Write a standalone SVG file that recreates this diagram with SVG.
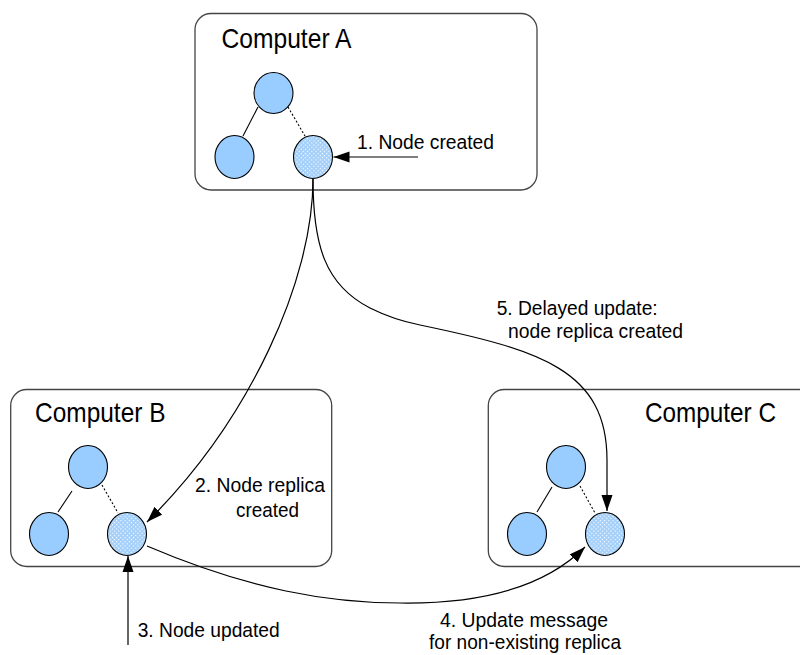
<svg xmlns="http://www.w3.org/2000/svg" width="800" height="655" viewBox="0 0 800 655">
<defs>
<style>
.box{fill:#fff;stroke:#444;stroke-width:1.3}
.n{fill:#99ccff;stroke:#000;stroke-width:1.1}
.h{fill:url(#hatch);stroke:#000;stroke-width:1.1}
.e{stroke:#000;stroke-width:1.1;fill:none}
.d{stroke:#000;stroke-width:1.1;fill:none;stroke-dasharray:2 2}
.c{stroke:#000;stroke-width:1.2;fill:none;marker-end:url(#arr)}
.t{font-family:"Liberation Sans Narrow","Liberation Sans",Arial,sans-serif;fill:#000}
.big{font-size:28px}
.sm{font-size:20.5px}
</style>
<pattern id="hatch" width="3" height="3" patternUnits="userSpaceOnUse" patternTransform="rotate(45)">
<rect width="3" height="3" fill="#a3cffa"/>
<rect x="0" y="0" width="1.2" height="1.2" fill="#fff"/>
</pattern>
<marker id="arr" markerUnits="userSpaceOnUse" markerWidth="17" markerHeight="12" refX="16" refY="6" orient="auto">
<path d="M0,0.5 L16,6 L0,11.5 z" fill="#000"/>
</marker>
</defs>
<rect width="800" height="655" fill="#fff"/>

<g id="computerA">
<rect class="box" x="195" y="13.5" width="342" height="176.5" rx="16"/>
<text class="t big" x="221.5" y="48" textLength="130" lengthAdjust="spacingAndGlyphs">Computer A</text>
<line class="e" x1="258" y1="107" x2="243" y2="136"/>
<line class="d" x1="288" y1="107" x2="305" y2="136"/>
<ellipse class="n" cx="273.5" cy="93" rx="19.5" ry="20.5"/>
<ellipse class="n" cx="234.5" cy="157" rx="19.5" ry="21.5"/>
<ellipse class="h" cx="313" cy="157" rx="19.5" ry="21.5"/>
</g>

<g id="computerB">
<rect class="box" x="10.7" y="389.5" width="321" height="177" rx="16"/>
<text class="t big" x="35" y="422" textLength="130.5" lengthAdjust="spacingAndGlyphs">Computer B</text>
<line class="e" x1="72" y1="491" x2="58" y2="512"/>
<line class="d" x1="102" y1="485" x2="118" y2="513"/>
<ellipse class="n" cx="88" cy="467" rx="19.5" ry="21.5"/>
<ellipse class="n" cx="49" cy="534" rx="19.5" ry="21.5"/>
<ellipse class="h" cx="127" cy="534" rx="19.5" ry="21.5"/>
</g>

<g id="computerC">
<rect class="box" x="488.3" y="389.5" width="330" height="177" rx="16"/>
<text class="t big" x="645" y="422" textLength="131" lengthAdjust="spacingAndGlyphs">Computer C</text>
<line class="e" x1="552" y1="487" x2="537" y2="512"/>
<line class="d" x1="580" y1="486" x2="595" y2="513"/>
<ellipse class="n" cx="566" cy="467" rx="19.5" ry="21.5"/>
<ellipse class="n" cx="527" cy="534" rx="19.5" ry="21.5"/>
<ellipse class="h" cx="605" cy="534" rx="19.5" ry="21.5"/>
</g>

<g id="connectors">
<path class="c" d="M418,157 L333.5,157"/>
<path class="c" d="M313,179 C313,280 250,420 147,522"/>
<path class="c" d="M128,645 L128,556"/>
<path class="c" d="M147,546 C250,590 330,603 400,603 C470,604 540,592 585,547"/>
<path class="c" d="M313,179 C313,245 325,285 370,308 C390,318 405,322 420,325 C540,350 607,370 607,460 L607,511"/>
</g>

<g id="labels">
<text class="t sm" x="357" y="149" textLength="137" lengthAdjust="spacingAndGlyphs">1. Node created</text>
<text class="t sm" x="195" y="492.3" textLength="130" lengthAdjust="spacingAndGlyphs">2. Node replica</text>
<text class="t sm" x="236" y="516.7" textLength="63" lengthAdjust="spacingAndGlyphs">created</text>
<text class="t sm" x="137.7" y="636.7" textLength="142" lengthAdjust="spacingAndGlyphs">3. Node updated</text>
<text class="t sm" x="440" y="626.7" textLength="168" lengthAdjust="spacingAndGlyphs">4. Update message</text>
<text class="t sm" x="429" y="649" textLength="192" lengthAdjust="spacingAndGlyphs">for non-existing replica</text>
<text class="t sm" x="496.7" y="315" textLength="161" lengthAdjust="spacingAndGlyphs">5. Delayed update:</text>
<text class="t sm" x="508" y="338" textLength="175" lengthAdjust="spacingAndGlyphs">node replica created</text>
</g>
</svg>
